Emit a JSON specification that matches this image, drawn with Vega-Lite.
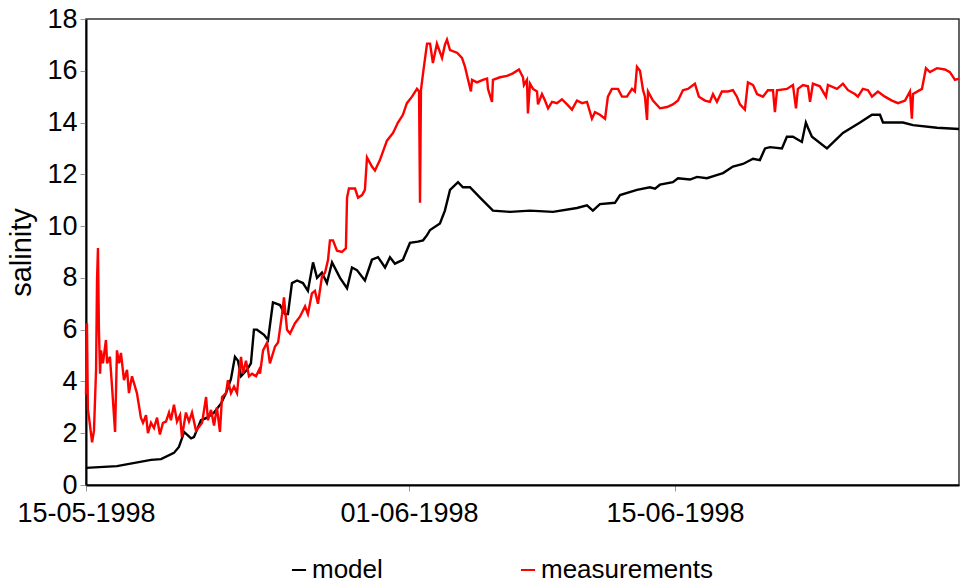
{
  "$schema": "https://vega.github.io/schema/vega-lite/v6.json",
  "width": 873,
  "height": 466,
  "autosize": {"type": "none"},
  "padding": {"left": 86, "top": 19, "right": 6, "bottom": 99},
  "background": "white",
  "config": {
    "font": "Liberation Sans",
    "view": {"stroke": "#333333", "strokeWidth": 1.5},
    "axis": {"grid": false, "domainColor": "#000000", "domainWidth": 2, "tickColor": "#999999", "tickSize": 6, "labelColor": "#000000", "labelFont": "Liberation Sans", "labelFontSize": 27, "titleFont": "Liberation Sans", "titleFontSize": 29, "titleFontWeight": "normal", "titleColor": "#000000"}
  },
  "datasets": {
    "model": [
      {"day": 0, "salinity": 0.66}, {"day": 1.63, "salinity": 0.73}, {"day": 3.42, "salinity": 0.97}, {"day": 3.95, "salinity": 1.0},
      {"day": 4.63, "salinity": 1.24}, {"day": 4.89, "salinity": 1.47}, {"day": 5.05, "salinity": 1.8}, {"day": 5.16, "salinity": 2.05},
      {"day": 5.53, "salinity": 1.8}, {"day": 5.68, "salinity": 1.85}, {"day": 6.05, "salinity": 2.5}, {"day": 6.37, "salinity": 2.6},
      {"day": 6.74, "salinity": 2.8}, {"day": 7.11, "salinity": 3.15}, {"day": 7.37, "salinity": 3.55}, {"day": 7.63, "salinity": 4.1},
      {"day": 7.84, "salinity": 4.95}, {"day": 8.0, "salinity": 4.8}, {"day": 8.16, "salinity": 4.2}, {"day": 8.47, "salinity": 4.45},
      {"day": 8.68, "salinity": 4.7}, {"day": 8.84, "salinity": 6.0}, {"day": 9.0, "salinity": 6.0}, {"day": 9.37, "salinity": 5.8},
      {"day": 9.58, "salinity": 5.6}, {"day": 9.84, "salinity": 7.05}, {"day": 10.21, "salinity": 6.95}, {"day": 10.47, "salinity": 6.6},
      {"day": 10.63, "salinity": 6.6}, {"day": 10.84, "salinity": 7.8}, {"day": 11.11, "salinity": 7.9}, {"day": 11.42, "salinity": 7.8},
      {"day": 11.68, "salinity": 7.5}, {"day": 11.95, "salinity": 8.6}, {"day": 12.16, "salinity": 8.0}, {"day": 12.42, "salinity": 8.2},
      {"day": 12.68, "salinity": 7.8}, {"day": 12.95, "salinity": 8.6}, {"day": 13.37, "salinity": 8.0}, {"day": 13.74, "salinity": 7.6},
      {"day": 14.0, "salinity": 8.4}, {"day": 14.26, "salinity": 8.3}, {"day": 14.68, "salinity": 7.9}, {"day": 15.05, "salinity": 8.7},
      {"day": 15.37, "salinity": 8.8}, {"day": 15.74, "salinity": 8.4}, {"day": 16.0, "salinity": 8.8}, {"day": 16.26, "salinity": 8.55},
      {"day": 16.68, "salinity": 8.7}, {"day": 17.05, "salinity": 9.35}, {"day": 17.47, "salinity": 9.4}, {"day": 17.74, "salinity": 9.45},
      {"day": 17.95, "salinity": 9.65}, {"day": 18.11, "salinity": 9.85}, {"day": 18.63, "salinity": 10.1}, {"day": 18.89, "salinity": 10.6},
      {"day": 19.16, "salinity": 11.4}, {"day": 19.58, "salinity": 11.7}, {"day": 19.84, "salinity": 11.5}, {"day": 20.21, "salinity": 11.5},
      {"day": 20.74, "salinity": 11.1}, {"day": 21.42, "salinity": 10.6}, {"day": 22.32, "salinity": 10.55}, {"day": 23.37, "salinity": 10.6},
      {"day": 24.58, "salinity": 10.55}, {"day": 25.84, "salinity": 10.7}, {"day": 26.37, "salinity": 10.8}, {"day": 26.68, "salinity": 10.6},
      {"day": 27.05, "salinity": 10.85}, {"day": 27.84, "salinity": 10.9}, {"day": 28.11, "salinity": 11.2}, {"day": 29.0, "salinity": 11.4},
      {"day": 29.68, "salinity": 11.5}, {"day": 29.95, "salinity": 11.45}, {"day": 30.21, "salinity": 11.6}, {"day": 30.89, "salinity": 11.7},
      {"day": 31.16, "salinity": 11.85}, {"day": 31.79, "salinity": 11.8}, {"day": 32.16, "salinity": 11.9}, {"day": 32.68, "salinity": 11.85},
      {"day": 33.11, "salinity": 11.95}, {"day": 33.53, "salinity": 12.05}, {"day": 34.05, "salinity": 12.3}, {"day": 34.58, "salinity": 12.4},
      {"day": 35.11, "salinity": 12.6}, {"day": 35.47, "salinity": 12.55}, {"day": 35.74, "salinity": 13.0}, {"day": 36.0, "salinity": 13.05},
      {"day": 36.63, "salinity": 13.0}, {"day": 36.89, "salinity": 13.45}, {"day": 37.21, "salinity": 13.45}, {"day": 37.68, "salinity": 13.25},
      {"day": 37.89, "salinity": 14.0}, {"day": 38.0, "salinity": 13.8}, {"day": 38.21, "salinity": 13.45}, {"day": 39.0, "salinity": 13.0},
      {"day": 39.84, "salinity": 13.6}, {"day": 40.74, "salinity": 14.0}, {"day": 41.37, "salinity": 14.3}, {"day": 41.79, "salinity": 14.3},
      {"day": 41.95, "salinity": 14.0}, {"day": 43.0, "salinity": 14.0}, {"day": 43.53, "salinity": 13.9}, {"day": 44.79, "salinity": 13.8},
      {"day": 45.95, "salinity": 13.75}
    ],
    "measurements": [
      {"day": 0.0, "salinity": 3.5}, {"day": 0.05, "salinity": 6.25}, {"day": 0.1, "salinity": 2.9}, {"day": 0.16, "salinity": 2.6},
      {"day": 0.32, "salinity": 1.65}, {"day": 0.42, "salinity": 2.1}, {"day": 0.53, "salinity": 4.45}, {"day": 0.58, "salinity": 7.9},
      {"day": 0.63, "salinity": 9.15}, {"day": 0.68, "salinity": 6.0}, {"day": 0.74, "salinity": 4.3}, {"day": 0.79, "salinity": 5.2},
      {"day": 0.89, "salinity": 4.7}, {"day": 1.05, "salinity": 5.6}, {"day": 1.11, "salinity": 4.7}, {"day": 1.26, "salinity": 4.95},
      {"day": 1.37, "salinity": 3.8}, {"day": 1.53, "salinity": 2.05}, {"day": 1.63, "salinity": 5.2}, {"day": 1.74, "salinity": 4.7},
      {"day": 1.84, "salinity": 5.1}, {"day": 2.0, "salinity": 4.05}, {"day": 2.16, "salinity": 4.45}, {"day": 2.26, "salinity": 3.55},
      {"day": 2.42, "salinity": 4.2}, {"day": 2.58, "salinity": 3.8}, {"day": 2.68, "salinity": 3.55}, {"day": 2.89, "salinity": 2.6},
      {"day": 3.0, "salinity": 2.4}, {"day": 3.16, "salinity": 2.7}, {"day": 3.26, "salinity": 2.0}, {"day": 3.42, "salinity": 2.4},
      {"day": 3.58, "salinity": 2.2}, {"day": 3.74, "salinity": 2.6}, {"day": 3.89, "salinity": 1.95}, {"day": 4.05, "salinity": 2.4},
      {"day": 4.21, "salinity": 2.45}, {"day": 4.37, "salinity": 2.8}, {"day": 4.47, "salinity": 2.5}, {"day": 4.63, "salinity": 3.1},
      {"day": 4.79, "salinity": 2.45}, {"day": 4.95, "salinity": 2.7}, {"day": 5.05, "salinity": 1.85}, {"day": 5.26, "salinity": 2.8},
      {"day": 5.42, "salinity": 2.45}, {"day": 5.58, "salinity": 2.8}, {"day": 5.79, "salinity": 2.1}, {"day": 5.95, "salinity": 2.25},
      {"day": 6.11, "salinity": 2.4}, {"day": 6.32, "salinity": 3.4}, {"day": 6.42, "salinity": 2.5}, {"day": 6.58, "salinity": 2.9},
      {"day": 6.74, "salinity": 2.3}, {"day": 6.89, "salinity": 3.0}, {"day": 7.05, "salinity": 2.05}, {"day": 7.16, "salinity": 3.4},
      {"day": 7.37, "salinity": 3.55}, {"day": 7.47, "salinity": 4.05}, {"day": 7.63, "salinity": 3.55}, {"day": 7.79, "salinity": 3.8},
      {"day": 7.95, "salinity": 3.55}, {"day": 8.05, "salinity": 4.3}, {"day": 8.16, "salinity": 4.95}, {"day": 8.26, "salinity": 4.3},
      {"day": 8.42, "salinity": 4.8}, {"day": 8.58, "salinity": 4.2}, {"day": 8.74, "salinity": 4.3}, {"day": 8.95, "salinity": 4.2},
      {"day": 9.11, "salinity": 4.45}, {"day": 9.16, "salinity": 4.3}, {"day": 9.32, "salinity": 5.2}, {"day": 9.53, "salinity": 5.5},
      {"day": 9.68, "salinity": 4.7}, {"day": 9.95, "salinity": 5.35}, {"day": 10.11, "salinity": 5.5}, {"day": 10.32, "salinity": 6.6},
      {"day": 10.42, "salinity": 7.25}, {"day": 10.58, "salinity": 6.0}, {"day": 10.74, "salinity": 5.85}, {"day": 11.0, "salinity": 6.25},
      {"day": 11.26, "salinity": 6.5}, {"day": 11.53, "salinity": 6.9}, {"day": 11.68, "salinity": 6.6}, {"day": 11.89, "salinity": 7.4},
      {"day": 12.05, "salinity": 7.5}, {"day": 12.21, "salinity": 7.0}, {"day": 12.42, "salinity": 8.05}, {"day": 12.58, "salinity": 8.2},
      {"day": 12.74, "salinity": 8.7}, {"day": 12.84, "salinity": 9.45}, {"day": 13.0, "salinity": 9.45}, {"day": 13.21, "salinity": 9.05},
      {"day": 13.47, "salinity": 9.0}, {"day": 13.68, "salinity": 9.15}, {"day": 13.74, "salinity": 11.1}, {"day": 13.84, "salinity": 11.45},
      {"day": 14.16, "salinity": 11.45}, {"day": 14.32, "salinity": 11.1}, {"day": 14.53, "salinity": 11.2}, {"day": 14.68, "salinity": 11.4},
      {"day": 14.79, "salinity": 12.65}, {"day": 15.05, "salinity": 12.3}, {"day": 15.21, "salinity": 12.15}, {"day": 15.47, "salinity": 12.55},
      {"day": 15.84, "salinity": 13.3}, {"day": 16.16, "salinity": 13.6}, {"day": 16.42, "salinity": 14.0}, {"day": 16.68, "salinity": 14.3},
      {"day": 16.89, "salinity": 14.75}, {"day": 17.16, "salinity": 15.0}, {"day": 17.42, "salinity": 15.3}, {"day": 17.53, "salinity": 15.2},
      {"day": 17.58, "salinity": 10.9}, {"day": 17.63, "salinity": 15.25}, {"day": 17.74, "salinity": 15.9}, {"day": 17.95, "salinity": 17.05},
      {"day": 18.11, "salinity": 17.05}, {"day": 18.26, "salinity": 16.3}, {"day": 18.47, "salinity": 17.05}, {"day": 18.74, "salinity": 16.5},
      {"day": 18.89, "salinity": 17.0}, {"day": 19.0, "salinity": 17.2}, {"day": 19.16, "salinity": 16.8}, {"day": 19.53, "salinity": 16.7},
      {"day": 19.79, "salinity": 16.5}, {"day": 19.95, "salinity": 16.15}, {"day": 20.11, "salinity": 15.65}, {"day": 20.26, "salinity": 15.2},
      {"day": 20.32, "salinity": 15.65}, {"day": 20.58, "salinity": 15.55}, {"day": 20.89, "salinity": 15.65}, {"day": 21.11, "salinity": 15.7},
      {"day": 21.16, "salinity": 15.3}, {"day": 21.37, "salinity": 14.8}, {"day": 21.42, "salinity": 15.65}, {"day": 21.79, "salinity": 15.75},
      {"day": 22.16, "salinity": 15.8}, {"day": 22.47, "salinity": 15.9}, {"day": 22.79, "salinity": 16.05}, {"day": 23.0, "salinity": 15.75},
      {"day": 23.05, "salinity": 15.45}, {"day": 23.21, "salinity": 15.65}, {"day": 23.26, "salinity": 14.35}, {"day": 23.37, "salinity": 15.5},
      {"day": 23.53, "salinity": 15.3}, {"day": 23.74, "salinity": 15.2}, {"day": 23.79, "salinity": 14.7}, {"day": 24.0, "salinity": 15.1},
      {"day": 24.16, "salinity": 14.85}, {"day": 24.32, "salinity": 14.55}, {"day": 24.53, "salinity": 14.8}, {"day": 24.79, "salinity": 14.75},
      {"day": 25.05, "salinity": 14.9}, {"day": 25.32, "salinity": 14.7}, {"day": 25.58, "salinity": 14.5}, {"day": 25.84, "salinity": 14.85},
      {"day": 26.11, "salinity": 14.75}, {"day": 26.37, "salinity": 14.8}, {"day": 26.63, "salinity": 14.15}, {"day": 26.79, "salinity": 14.4},
      {"day": 27.05, "salinity": 14.3}, {"day": 27.32, "salinity": 14.15}, {"day": 27.47, "salinity": 15.0}, {"day": 27.68, "salinity": 15.3},
      {"day": 28.0, "salinity": 15.3}, {"day": 28.21, "salinity": 15.0}, {"day": 28.47, "salinity": 15.0}, {"day": 28.74, "salinity": 15.3},
      {"day": 28.89, "salinity": 15.2}, {"day": 29.0, "salinity": 16.15}, {"day": 29.16, "salinity": 16.0}, {"day": 29.32, "salinity": 15.25},
      {"day": 29.42, "salinity": 15.0}, {"day": 29.53, "salinity": 14.1}, {"day": 29.58, "salinity": 15.2}, {"day": 29.84, "salinity": 14.85},
      {"day": 30.21, "salinity": 14.55}, {"day": 30.58, "salinity": 14.6}, {"day": 30.89, "salinity": 14.7}, {"day": 31.16, "salinity": 14.85},
      {"day": 31.42, "salinity": 15.25}, {"day": 31.68, "salinity": 15.3}, {"day": 32.05, "salinity": 15.5}, {"day": 32.26, "salinity": 15.0},
      {"day": 32.58, "salinity": 14.85}, {"day": 32.84, "salinity": 14.8}, {"day": 33.0, "salinity": 15.1}, {"day": 33.21, "salinity": 14.8},
      {"day": 33.47, "salinity": 15.2}, {"day": 33.79, "salinity": 15.2}, {"day": 34.05, "salinity": 15.25}, {"day": 34.26, "salinity": 15.0},
      {"day": 34.42, "salinity": 14.7}, {"day": 34.68, "salinity": 14.5}, {"day": 34.84, "salinity": 15.55}, {"day": 35.11, "salinity": 15.45},
      {"day": 35.32, "salinity": 15.1}, {"day": 35.63, "salinity": 15.0}, {"day": 35.89, "salinity": 15.25}, {"day": 36.16, "salinity": 15.25},
      {"day": 36.26, "salinity": 14.4}, {"day": 36.37, "salinity": 15.25}, {"day": 36.89, "salinity": 15.3}, {"day": 37.21, "salinity": 15.45},
      {"day": 37.37, "salinity": 14.55}, {"day": 37.47, "salinity": 15.3}, {"day": 37.74, "salinity": 15.45}, {"day": 38.0, "salinity": 15.4},
      {"day": 38.11, "salinity": 14.8}, {"day": 38.26, "salinity": 15.5}, {"day": 38.63, "salinity": 15.4}, {"day": 38.95, "salinity": 15.0},
      {"day": 39.05, "salinity": 15.45}, {"day": 39.53, "salinity": 15.3}, {"day": 39.84, "salinity": 15.5}, {"day": 40.11, "salinity": 15.25},
      {"day": 40.47, "salinity": 15.1}, {"day": 40.63, "salinity": 15.0}, {"day": 40.89, "salinity": 15.3}, {"day": 41.16, "salinity": 15.25},
      {"day": 41.37, "salinity": 15.0}, {"day": 41.68, "salinity": 15.2}, {"day": 42.05, "salinity": 15.0}, {"day": 42.42, "salinity": 14.85},
      {"day": 42.74, "salinity": 14.75}, {"day": 43.11, "salinity": 14.85}, {"day": 43.37, "salinity": 15.2}, {"day": 43.47, "salinity": 14.15},
      {"day": 43.53, "salinity": 15.1}, {"day": 44.0, "salinity": 15.3}, {"day": 44.21, "salinity": 16.1}, {"day": 44.42, "salinity": 15.95},
      {"day": 44.79, "salinity": 16.1}, {"day": 45.21, "salinity": 16.05}, {"day": 45.47, "salinity": 15.95}, {"day": 45.74, "salinity": 15.65},
      {"day": 45.95, "salinity": 15.7}
    ]
  },
  "encoding": {
    "x": {
      "field": "day",
      "type": "quantitative",
      "title": null,
      "scale": {"domain": [0, 45.95], "nice": false, "zero": false},
      "axis": {"values": [0, 17, 31], "labelExpr": "datum.value == 0 ? '15-05-1998' : datum.value == 17 ? '01-06-1998' : '15-06-1998'", "labelFlush": false, "labelBound": false, "labelOverlap": false, "labelPadding": 9}
    },
    "y": {
      "field": "salinity",
      "type": "quantitative",
      "title": "salinity",
      "scale": {"domain": [0, 18], "nice": false},
      "axis": {"values": [0, 2, 4, 6, 8, 10, 12, 14, 16, 18], "labelPadding": 3, "titlePadding": 10}
    },
    "color": {
      "field": "series",
      "type": "nominal",
      "scale": {"domain": ["model", "measurements"], "range": ["#000000", "#ff0000"]},
      "legend": {"title": null, "orient": "none", "legendX": 200, "legendY": 538, "direction": "horizontal", "symbolType": "stroke", "symbolStrokeWidth": 2, "symbolSize": 200, "labelFontSize": 26, "labelFont": "Liberation Sans", "labelColor": "#000000", "labelOffset": 0, "labelLimit": 400, "columnPadding": 132, "padding": 0}
    }
  },
  "layer": [
    {"data": {"name": "model"}, "transform": [{"calculate": "'model'", "as": "series"}], "mark": {"type": "line", "strokeWidth": 2.4}},
    {"data": {"name": "measurements"}, "transform": [{"calculate": "'measurements'", "as": "series"}], "mark": {"type": "line", "strokeWidth": 2.4}}
  ]
}
